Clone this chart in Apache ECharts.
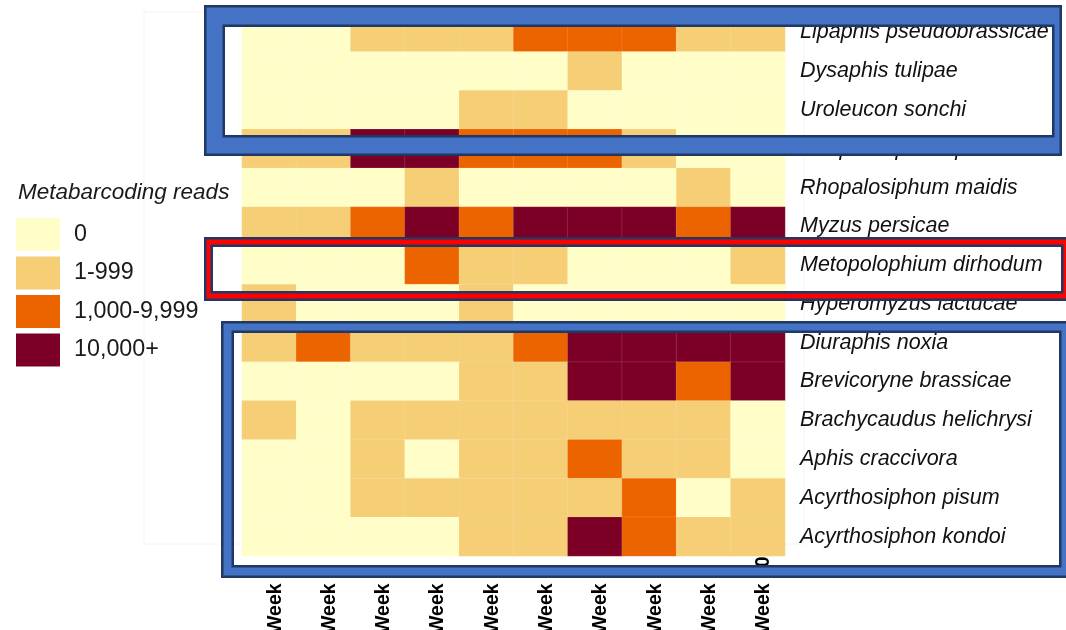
<!DOCTYPE html>
<html>
<head>
<meta charset="utf-8">
<script src="https://cdn.jsdelivr.net/npm/echarts@6/dist/echarts.min.js"></script>
<style>
  html, body { margin: 0; padding: 0; background: #ffffff; }
  #chart { width: 1066px; height: 630px; }
</style>
</head>
<body>
<div id="chart"></div>
<script>
// Sampling weeks (columns) and aphid species (rows, top to bottom)
const weeks = ['Week 1', 'Week 2', 'Week 3', 'Week 4', 'Week 5',
               'Week 6', 'Week 7', 'Week 8', 'Week 9', 'Week 10'];

const species = [
  'Lipaphis pseudobrassicae',
  'Dysaphis tulipae',
  'Uroleucon sonchi',
  'Rhopalosiphum padi',
  'Rhopalosiphum maidis',
  'Myzus persicae',
  'Metopolophium dirhodum',
  'Hyperomyzus lactucae',
  'Diuraphis noxia',
  'Brevicoryne brassicae',
  'Brachycaudus helichrysi',
  'Aphis craccivora',
  'Acyrthosiphon pisum',
  'Acyrthosiphon kondoi'
];

// Read-count class per species and week: 0 = none, 1 = 1-999, 2 = 1,000-9,999, 3 = 10,000+
const readClasses = [
  [0, 0, 1, 1, 1, 2, 2, 2, 1, 1],
  [0, 0, 0, 0, 0, 0, 1, 0, 0, 0],
  [0, 0, 0, 0, 1, 1, 0, 0, 0, 0],
  [1, 1, 3, 3, 2, 2, 2, 1, 0, 0],
  [0, 0, 0, 1, 0, 0, 0, 0, 1, 0],
  [1, 1, 2, 3, 2, 3, 3, 3, 2, 3],
  [0, 0, 0, 2, 1, 1, 0, 0, 0, 1],
  [1, 0, 0, 0, 1, 0, 0, 0, 0, 0],
  [1, 2, 1, 1, 1, 2, 3, 3, 3, 3],
  [0, 0, 0, 0, 1, 1, 3, 3, 2, 3],
  [1, 0, 1, 1, 1, 1, 1, 1, 1, 0],
  [0, 0, 1, 0, 1, 1, 2, 1, 1, 0],
  [0, 0, 1, 1, 1, 1, 1, 2, 0, 1],
  [0, 0, 0, 0, 1, 1, 3, 2, 1, 1]
];

// Legend classes
const classLabels = ['0', '1-999', '1,000-9,999', '10,000+'];
const classColors = ['#FFFDC8', '#F5CE76', '#EC6400', '#7C0026'];

const cells = [];
readClasses.forEach(function (row, s) {
  row.forEach(function (v, w) { cells.push([w, s, v]); });
});

// Highlight frames: coloured band with a navy edge on both sides
const NAVY = '#1F3864';
function frame(ox, oy, ox2, oy2, ix, iy, ix2, iy2, color) {
  const els = [
    { type: 'rect', shape: { x: ox, y: oy, width: ox2 - ox, height: iy - oy } },
    { type: 'rect', shape: { x: ox, y: iy2, width: ox2 - ox, height: oy2 - iy2 } },
    { type: 'rect', shape: { x: ox, y: iy, width: ix - ox, height: iy2 - iy } },
    { type: 'rect', shape: { x: ix2, y: iy, width: ox2 - ix2, height: iy2 - iy } }
  ].map(function (e) {
    e.style = { fill: color };
    e.z = 100;
    e.silent = true;
    return e;
  });
  els.push({
    type: 'rect', z: 101, silent: true,
    shape: { x: ox + 1.25, y: oy + 1.25, width: ox2 - ox - 2.5, height: oy2 - oy - 2.5 },
    style: { fill: 'none', stroke: NAVY, lineWidth: 2.5 }
  });
  els.push({
    type: 'rect', z: 101, silent: true,
    shape: { x: ix - 1.25, y: iy - 1.25, width: ix2 - ix + 2.5, height: iy2 - iy + 2.5 },
    style: { fill: 'none', stroke: NAVY, lineWidth: 2.5 }
  });
  return els;
}

const FONT = '"Liberation Sans", Arial, sans-serif';
const chart = echarts.init(document.getElementById('chart'), null, { renderer: 'canvas' });

chart.setOption({
  backgroundColor: '#ffffff',
  animation: false,
  title: {
    text: 'Metabarcoding reads',
    left: 13,
    top: 176,
    textStyle: { fontFamily: FONT, fontSize: 22.5, fontStyle: 'italic', fontWeight: 'normal', color: '#1a1a1a' }
  },
  grid: { left: 242, right: 281, top: 13, bottom: 74, outerBoundsMode: 'none', containLabel: false },
  xAxis: {
    type: 'category',
    data: weeks,
    axisLine: { show: false },
    axisTick: { show: false },
    splitLine: { show: false },
    axisLabel: {
      rotate: 90,
      align: 'left',
      verticalAlign: 'top',
      lineHeight: 12,
      margin: 78,
      fontFamily: FONT,
      fontSize: 19.5,
      fontWeight: 'bold',
      color: '#000000'
    }
  },
  yAxis: {
    type: 'category',
    data: species,
    inverse: true,
    position: 'right',
    axisLine: { show: false },
    axisTick: { show: false },
    splitLine: { show: false },
    axisLabel: {
      margin: 15,
      fontFamily: FONT,
      fontSize: 21.5,
      fontStyle: 'italic',
      color: '#111111'
    }
  },
  visualMap: {
    type: 'piecewise',
    dimension: 2,
    orient: 'vertical',
    inverse: true,
    left: 1,
    top: 203,
    itemWidth: 44,
    itemHeight: 33,
    itemGap: 5.5,
    itemSymbol: 'rect',
    textGap: 14,
    selectedMode: false,
    textStyle: { fontFamily: FONT, fontSize: 23.3, color: '#1a1a1a' },
    pieces: classLabels.map(function (l, i) {
      return { value: i, label: l, color: classColors[i] };
    })
  },
  series: [{
    type: 'heatmap',
    data: cells,
    itemStyle: { borderColor: 'rgba(255,255,255,0.2)', borderWidth: 0.6 },
    emphasis: { disabled: true }
  }],
  graphic: [
    {
      type: 'rect', z: -1, silent: true,
      shape: { x: 144, y: 12, width: 660, height: 532 },
      style: { fill: 'none', stroke: '#f4f4f4', lineWidth: 1 }
    }
  ]
    .concat(frame(204, 5, 1062, 156, 225, 27, 1052, 135, '#4472C4'))
    .concat(frame(204, 237, 1070, 301, 213, 247, 1061, 291, '#FF0000'))
    .concat(frame(221, 321, 1070, 578, 234, 333, 1059, 565, '#4472C4'))
});
</script>
</body>
</html>
